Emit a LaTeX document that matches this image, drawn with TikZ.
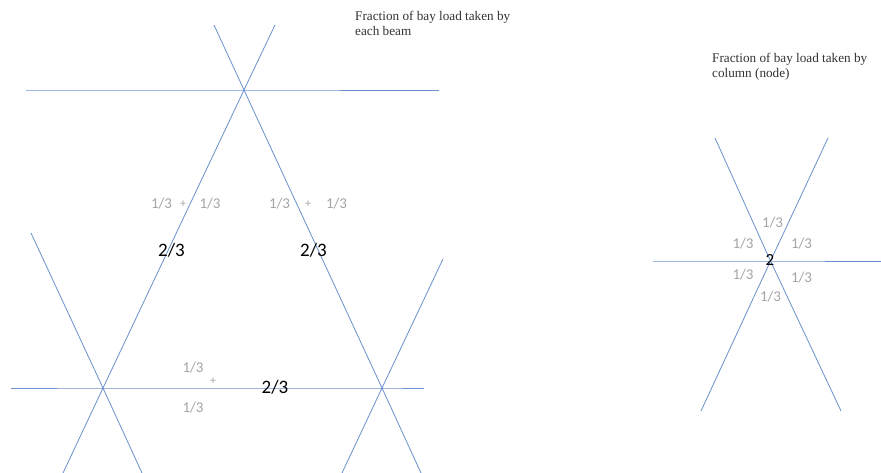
\documentclass[tikz,border=0pt]{standalone}
\usepackage{fontspec}
\setmainfont{Liberation Serif}
\newfontfamily\calib{Carlito}
\definecolor{beamblue}{RGB}{105,145,205}
\definecolor{fracgray}{RGB}{165,165,165}
\begin{document}
\begin{tikzpicture}[x=1pt,y=-1pt,
  beam/.style={draw=beamblue,line width=0.8pt},
  title/.style={anchor=base west,inner sep=0pt,font=\fontsize{13.2}{15}\selectfont,text=black!80},
  frac/.style={inner sep=0pt,font=\calib\fontsize{15}{17}\selectfont,text=fracgray},
  total/.style={inner sep=0pt,font=\calib\fontsize{19}{21}\selectfont,text=black},
  plus/.style={inner sep=0pt,font=\calib\fontsize{12}{14}\selectfont,text=fracgray}]
\useasboundingbox (0,0) rectangle (881,473);
\fill[white] (0,0) rectangle (881,473);
% left figure coordinates
\coordinate (T) at (244,90);
\coordinate (L) at (103,388);
\coordinate (R) at (382,388);
\coordinate (t1) at (214,25);
\coordinate (t2) at (275,25);
\coordinate (b1) at (421,473);
\coordinate (b2) at (63,473);
\coordinate (l1) at (31,233);
\coordinate (l2) at (142,473);
\coordinate (r1) at (443,259);
\coordinate (r2) at (342,473);
\coordinate (h1) at (26,90);
\coordinate (h2) at (439,90);
\coordinate (h3) at (11,388);
\coordinate (h4) at (424,388);
\draw[beam] (t1) -- (T) -- (R) -- (b1);
\draw[beam] (t2) -- (T) -- (L) -- (b2);
\draw[beam] (l1) -- (L) -- (l2);
\draw[beam] (r1) -- (R) -- (r2);
\draw[beam] (h1) -- (T) -- (h2);
\draw[beam] (h3) -- (L) -- (R) -- (h4);
% right figure
\coordinate (C) at (770.5,261);
\coordinate (c1) at (653,261);
\coordinate (c2) at (881,261);
\coordinate (c3) at (715,138);
\coordinate (c4) at (841,411);
\coordinate (c5) at (828,138);
\coordinate (c6) at (701,411);
\draw[beam] (c1) -- (C) -- (c2);
\draw[beam] (c3) -- (C) -- (c4);
\draw[beam] (c5) -- (C) -- (c6);
% titles
\node[title] (ta) at (355,21) {Fraction of bay load taken by};
\node[title] (tb) at (355,36) {each beam};
\node[title] (tc) at (712,63) {Fraction of bay load taken by};
\node[title] (td) at (712,78) {column (node)};
% left labels
\node[frac] (f1) at (161.5,204) {1/3};
\node[plus] (p1) at (183,204) {+};
\node[frac] (f2) at (210,204) {1/3};
\node[frac] (f3) at (279.5,204) {1/3};
\node[plus] (p2) at (308,204) {+};
\node[frac] (f4) at (336.5,204) {1/3};
\node[total] (s1) at (171.5,250) {2/3};
\node[total] (s2) at (313.5,250) {2/3};
\node[frac] (f5) at (193,368) {1/3};
\node[plus] (p3) at (213,381) {+};
\node[frac] (f6) at (193,408) {1/3};
\node[total] (s3) at (275,387) {2/3};
% right labels
\node[frac] (g1) at (772.5,223) {1/3};
\node[frac] (g2) at (743,244) {1/3};
\node[frac] (g3) at (801.5,244) {1/3};
\node[total,font=\calib\fontsize{17}{19}\selectfont] (g0) at (770,260) {2};
\node[frac] (g4) at (743,275) {1/3};
\node[frac] (g5) at (801.5,278) {1/3};
\node[frac] (g6) at (770.5,297) {1/3};
\end{tikzpicture}
\end{document}
